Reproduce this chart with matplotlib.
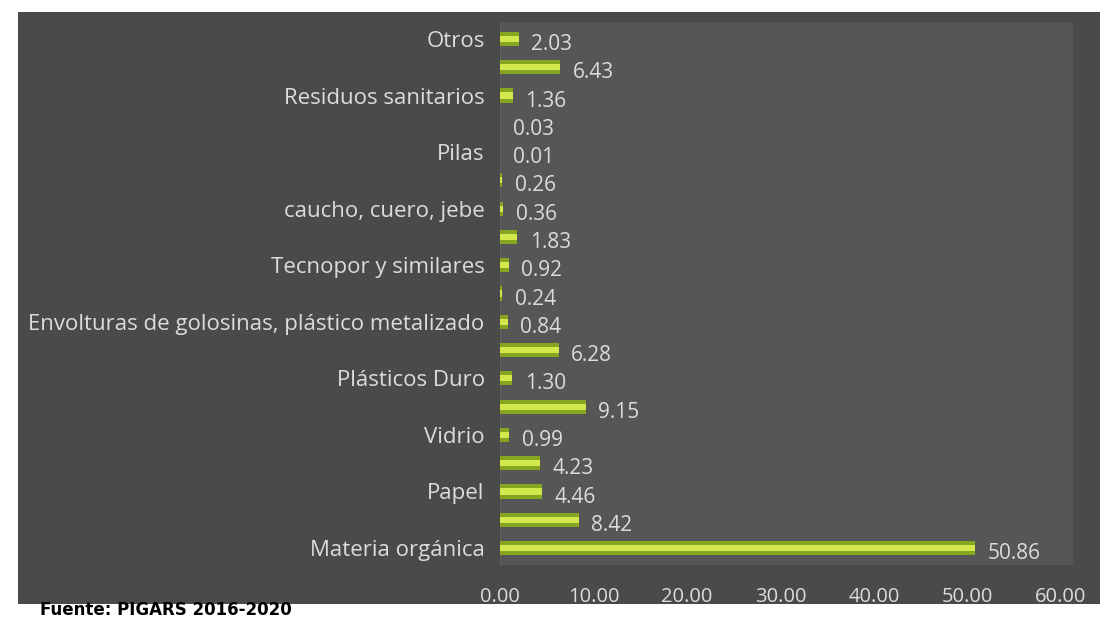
import matplotlib.pyplot as plt

# datos (de abajo hacia arriba)
categorias = ["Materia orgánica", "", "Papel", "", "Vidrio", "", "Plásticos Duro", "",
              "Envolturas de golosinas, plástico metalizado", "", "Tecnopor y similares", "",
              "caucho, cuero, jebe", "", "Pilas", "", "Residuos sanitarios", "", "Otros"]
valores = [50.86, 8.42, 4.46, 4.23, 0.99, 9.15, 1.30, 6.28, 0.84, 0.24,
           0.92, 1.83, 0.36, 0.26, 0.01, 0.03, 1.36, 6.43, 2.03]
ticks_x = [0, 10, 20, 30, 40, 50, 60]
fuente = "Fuente: PIGARS 2016-2020"

W, H = 1113, 620
fig = plt.figure(figsize=(W / 100, H / 100), dpi=100)
fig.patch.set_facecolor("white")

# fondo oscuro del grafico
bg = fig.add_axes([18 / W, 1 - 604 / H, (1100 - 18) / W, (604 - 12) / H], zorder=0)
bg.set_facecolor("#4a4a4a")
bg.set_xticks([])
bg.set_yticks([])
for s in bg.spines.values():
    s.set_visible(False)

ax = fig.add_axes([500 / W, 1 - 565 / H, (1073 - 500) / W, (565 - 22) / H], zorder=1)
ax.set_facecolor("#565656")

pos = list(range(len(valores)))
ax.barh(pos, valores, height=0.5, color="#86a621", zorder=2)
ax.barh(pos, valores, height=0.22, color="#d2e84c", zorder=3)

for y, v in zip(pos, valores):
    ax.annotate(f"{v:.2f}", (v, y), xytext=(9, -4), textcoords="offset points",
                va="center", ha="left", color="#dcdcdc", fontsize=15, family="Open Sans")

ax.set_xlim(0, 61.3)
ax.set_ylim(-0.6, 18.6)
ax.set_xticks(ticks_x)
ax.set_xticklabels([f"{t:.2f}" for t in ticks_x], family="Open Sans", fontsize=14.5, color="#dcdcdc")
ax.set_yticks(pos)
ax.set_yticklabels(categorias, family="Open Sans", fontsize=16, color="#dcdcdc")
ax.tick_params(length=0)
ax.tick_params(axis="y", pad=11)
ax.tick_params(axis="x", pad=16)
for s in ax.spines.values():
    s.set_visible(False)
ax.axvline(0, color="#626262", lw=1.5, zorder=1)

fig.text(40 / W, 1 / H, fuente, ha="left", va="bottom", fontsize=12,
         fontweight="bold", color="black", family="DejaVu Sans")

fig.savefig("out.png", dpi=100)
